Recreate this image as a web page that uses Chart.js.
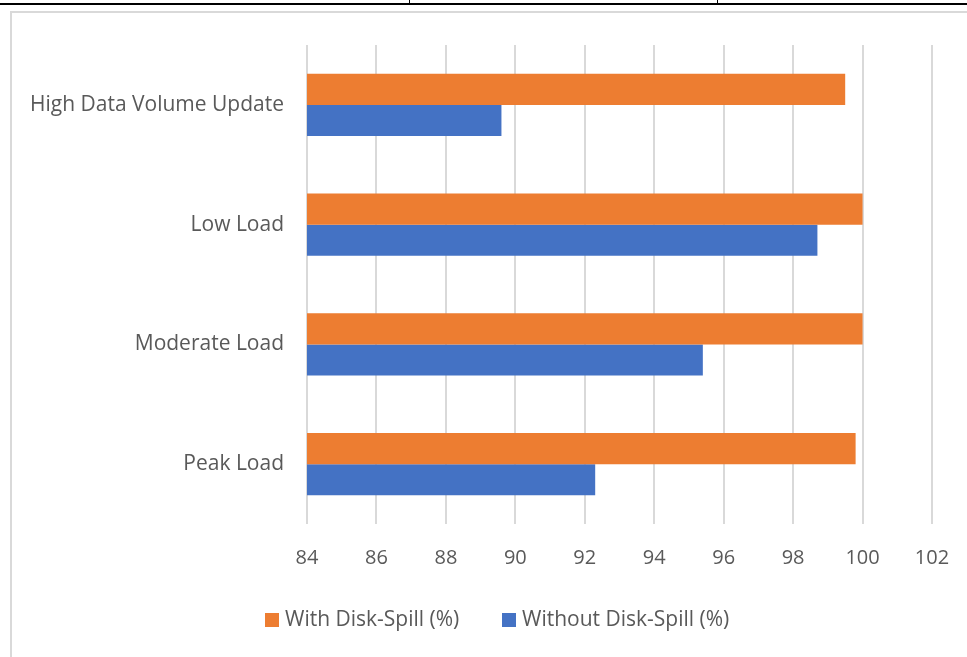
<!DOCTYPE html>
<html>
<head>
<meta charset="utf-8">
<script src="https://cdn.jsdelivr.net/npm/chart.js@4.4.1/dist/chart.umd.min.js"></script>
<style>
html,body{margin:0;padding:0;background:#fff;}
#wrap{position:absolute;left:0;top:0;width:967px;height:657px;}
</style>
</head>
<body>
<div id="wrap"><canvas id="c" width="967" height="657"></canvas></div>
<script>
const categories = ["High Data Volume Update", "Low Load", "Moderate Load", "Peak Load"];
const withSpill = [99.5, 100.0, 100.0, 99.8];
const withoutSpill = [89.6, 98.7, 95.4, 92.3];
const seriesNames = ["With Disk-Spill (%)", "Without Disk-Spill (%)"];
const seriesColors = ["#ED7D31", "#4472C4"];
const xMin = 84, xMax = 102, xStep = 2;

const FONT = "'Open Sans', 'DejaVu Sans', sans-serif";
const TEXT = "#595959";

const frame = {
  id: 'frame',
  beforeDraw(chart) {
    const ctx = chart.ctx;
    ctx.save();
    ctx.fillStyle = '#fff';
    ctx.fillRect(0, 0, chart.width, chart.height);
    ctx.fillStyle = '#000';
    ctx.fillRect(0, 3, chart.width, 2);
    ctx.fillRect(409, 0, 1, 4);
    ctx.fillRect(717, 0, 1, 4);
    ctx.fillStyle = '#d9d9d9';
    ctx.fillRect(10, 11, chart.width - 10, 2);
    ctx.fillRect(10, 11, 2, chart.height - 11);
    ctx.restore();
  }
};

const legendPlugin = {
  id: 'customLegend',
  afterDraw(chart) {
    const ctx = chart.ctx;
    ctx.save();
    ctx.font = "21px " + FONT;
    ctx.textBaseline = 'middle';
    ctx.textAlign = 'left';
    const y = 620;
    const starts = [265, 502];
    chart.data.datasets.forEach((ds, i) => {
      const x = starts[i];
      ctx.fillStyle = ds.backgroundColor;
      ctx.fillRect(x, y - 7, 14, 14);
      ctx.fillStyle = TEXT;
      ctx.fillText(ds.label, x + 20, y);
    });
    ctx.restore();
  }
};

new Chart(document.getElementById('c'), {
  type: 'bar',
  data: {
    labels: categories,
    datasets: [
      { label: seriesNames[0], data: withSpill, backgroundColor: seriesColors[0] },
      { label: seriesNames[1], data: withoutSpill, backgroundColor: seriesColors[1] }
    ]
  },
  options: {
    indexAxis: 'y',
    responsive: false,
    animation: false,
    events: [],
    layout: { padding: { left: 0, right: 35, top: 45, bottom: 0 } },
    datasets: { bar: { barPercentage: 1.0, categoryPercentage: 0.52 } },
    scales: {
      x: {
        min: xMin, max: xMax,
        ticks: { stepSize: xStep, color: TEXT, font: { family: FONT, size: 20 }, padding: 22 },
        grid: { color: '#d9d9d9', lineWidth: 2, drawTicks: false },
        border: { display: false },
        afterFit(s) { s.height = 657 - 45 - 479; s.paddingRight = 0; s.paddingLeft = 0; }
      },
      y: {
        ticks: { color: TEXT, font: { family: FONT, size: 21 }, padding: 23 },
        grid: { display: false, drawTicks: false },
        border: { display: false },
        afterFit(s) { s.width = 307; s.paddingTop = 0; s.paddingBottom = 0; }
      }
    },
    plugins: { legend: { display: false }, tooltip: { enabled: false } }
  },
  plugins: [frame, legendPlugin]
});
</script>
</body>
</html>
